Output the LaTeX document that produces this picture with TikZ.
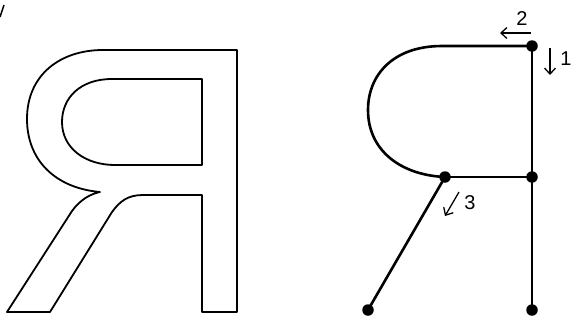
\documentclass[tikz,border=0pt]{standalone}
\usepackage{fontspec}
\setmainfont{Liberation Sans}
\usetikzlibrary{arrows.meta}
\begin{document}
\begin{tikzpicture}[x=1pt,y=-1pt,
  glyph/.style={line width=1.8pt,line join=round},
  skel/.style={line width=2.6pt},
  dot/.style={circle,fill=black,inner sep=0pt,minimum size=11.5pt},
  dirarrow/.style={line width=1.3pt,-{Straight Barb[length=6pt,width=11pt]}},
  lbl/.style={font=\fontsize{20}{20}\selectfont,inner sep=0pt}]
\useasboundingbox (0,0) rectangle (572,325);
% cropped fragment at top left
\draw[line width=1.5pt] (0,17) -- (4,5);
% outlined glyph
\draw[glyph] (237,50) -- (237,312) -- (202,312) -- (202,195) -- (143,195)
  .. controls (128,195) and (120,201) .. (112,212) -- (50,312) -- (7,312) -- (72,211)
  .. controls (80,200) and (90,194) .. (100,192)
  .. controls (55,188) and (27,160) .. (27,119)
  .. controls (27,75) and (60,50) .. (103,50) -- cycle;
\draw[glyph] (202,79) -- (112,79) .. controls (80,79) and (62,98) .. (62,122)
  .. controls (62,148) and (85,165) .. (115,165) -- (202,165) -- cycle;
% skeleton
\node[dot] (T) at (532,46) {};
\node[dot] (M) at (532,177) {};
\node[dot] (B) at (532,310) {};
\node[dot] (J) at (445,177) {};
\node[dot] (L) at (368,310) {};
\draw[skel] (T.center) -- (442,46) .. controls (393,46) and (368,75) .. (368,110)
  .. controls (368,150) and (400,175) .. (J.center);
\draw[skel] (T.center) -- (M.center) -- (B.center);
\draw[skel] (J.center) -- (M.center);
\draw[skel] (J.center) -- (L.center);
% direction arrows
\coordinate (a2s) at (531,33); \coordinate (a2e) at (500,33);
\coordinate (a1s) at (550,48); \coordinate (a1e) at (550,75);
\coordinate (a3s) at (459,192); \coordinate (a3e) at (445,216);
\draw[dirarrow] (a2s) -- (a2e);
\draw[dirarrow] (a1s) -- (a1e);
\draw[dirarrow] (a3s) -- (a3e);
\node[lbl] (n2) at (522,19) {2};
\node[lbl] (n1) at (566,59) {1};
\node[lbl] (n3) at (470,203) {3};
\end{tikzpicture}
\end{document}
